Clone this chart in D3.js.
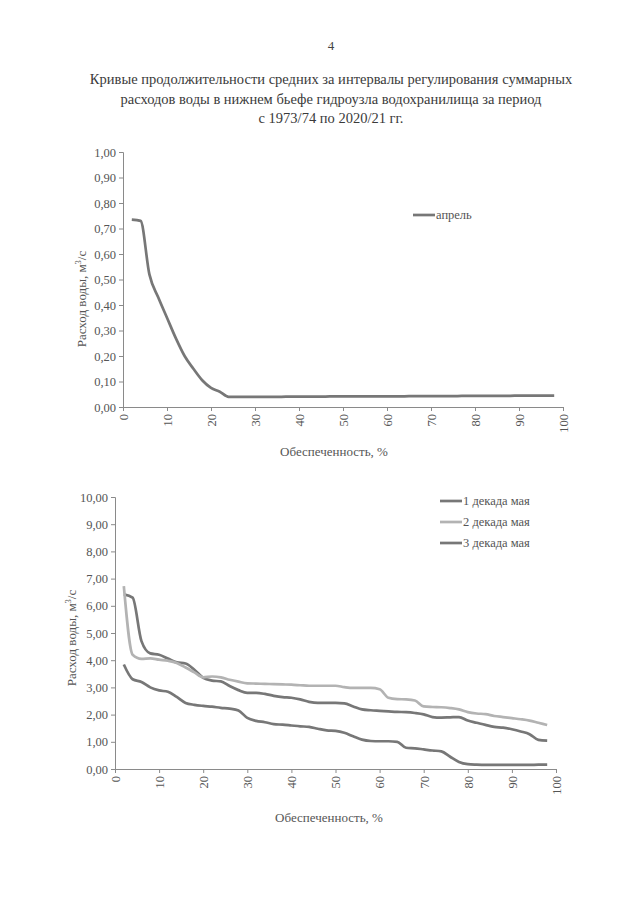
<!DOCTYPE html>
<html>
<head>
<meta charset="utf-8">
<script src="https://cdn.jsdelivr.net/npm/d3@7"></script>
<style>
  body { margin: 0; background: #fff; }
  svg text { font-family: "Liberation Serif", "Times New Roman", serif; }
</style>
</head>
<body>
<svg id="page" width="640" height="922"></svg>
<script>
// exceedance (%) points, shared by all curves
var pct = [2, 4, 6, 8, 10, 12, 14, 16, 18, 20, 22, 24, 26, 28, 30, 32, 34, 36, 38, 40,
  42, 44, 46, 48, 50, 52, 54, 56, 58, 60, 62, 64, 66, 68, 70, 72, 74, 76, 78, 80,
  82, 84, 86, 88, 90, 92, 94, 96, 98];

var april = [0.735, 0.73, 0.52, 0.43, 0.35, 0.27, 0.20, 0.15, 0.105, 0.075, 0.06, 0.04, 0.04, 0.04, 0.04, 0.04, 0.04, 0.04, 0.041, 0.041,
  0.041, 0.041, 0.041, 0.042, 0.042, 0.042, 0.042, 0.042, 0.042, 0.042, 0.042, 0.042, 0.043, 0.043, 0.043, 0.043, 0.043, 0.043, 0.044, 0.044,
  0.044, 0.044, 0.044, 0.044, 0.045, 0.045, 0.045, 0.045, 0.045];

var may1 = [6.42, 6.30, 4.70, 4.25, 4.20, 4.06, 3.92, 3.88, 3.65, 3.35, 3.25, 3.22, 3.05, 2.90, 2.80, 2.80, 2.76, 2.69, 2.64, 2.62,
  2.56, 2.47, 2.43, 2.43, 2.43, 2.41, 2.30, 2.19, 2.16, 2.14, 2.12, 2.10, 2.09, 2.06, 2.01, 1.91, 1.89, 1.90, 1.91, 1.78,
  1.70, 1.62, 1.55, 1.52, 1.46, 1.38, 1.28, 1.07, 1.04];
var may2 = [6.72, 4.20, 4.05, 4.07, 4.02, 3.98, 3.90, 3.73, 3.55, 3.37, 3.40, 3.37, 3.28, 3.21, 3.15, 3.14, 3.13, 3.12, 3.11, 3.10,
  3.08, 3.06, 3.06, 3.06, 3.06, 3.01, 2.98, 2.98, 2.98, 2.93, 2.62, 2.57, 2.56, 2.52, 2.30, 2.28, 2.27, 2.24, 2.19, 2.09,
  2.04, 2.02, 1.95, 1.91, 1.87, 1.83, 1.78, 1.70, 1.62];
var may3 = [3.84, 3.30, 3.20, 3.00, 2.89, 2.84, 2.65, 2.43, 2.36, 2.32, 2.29, 2.25, 2.22, 2.15, 1.88, 1.77, 1.72, 1.65, 1.63, 1.60,
  1.57, 1.55, 1.48, 1.42, 1.40, 1.33, 1.20, 1.08, 1.03, 1.02, 1.02, 1.00, 0.78, 0.76, 0.72, 0.68, 0.65, 0.45, 0.26, 0.18,
  0.16, 0.15, 0.15, 0.15, 0.15, 0.15, 0.15, 0.16, 0.16];

var xTicks = [0, 10, 20, 30, 40, 50, 60, 70, 80, 90, 100];
var titleLines = [
  "Кривые продолжительности средних за интервалы регулирования суммарных",
  "расходов воды в нижнем бьефе гидроузла водохранилища за период",
  "с 1973/74 по 2020/21 гг."
];

var svg = d3.select("#page");
var comma = function (v) { return d3.format(".2f")(v).replace(".", ","); };
var serif = "'Liberation Serif', 'Times New Roman', serif";

svg.append("text").attr("x", 331).attr("y", 50).attr("text-anchor", "middle")
  .attr("font-size", 13).attr("fill", "#444").style("font-family", serif).text("4");

svg.append("g").selectAll("text").data(titleLines).enter().append("text")
  .attr("x", 331).attr("y", function (d, i) { return 84 + i * 19.5; })
  .attr("text-anchor", "middle").attr("font-size", 14.5).attr("fill", "#3a3a3a")
  .style("font-family", serif)
  .text(function (d) { return d; });

function drawChart(opt) {
  var x = d3.scaleLinear().domain([0, 100]).range([opt.left, opt.right]);
  var y = d3.scaleLinear().domain([0, opt.ymax]).range([opt.bottom, opt.top]);
  var g = svg.append("g");

  var yAxis = g.append("g").attr("transform", "translate(" + opt.left + ",0)")
    .call(d3.axisLeft(y).ticks(10).tickSize(4).tickPadding(3).tickFormat(comma));
  var xAxis = g.append("g").attr("transform", "translate(0," + opt.bottom + ")")
    .call(d3.axisBottom(x).tickValues(xTicks).tickSize(4).tickPadding(3));

  [yAxis, xAxis].forEach(function (a) {
    a.attr("font-family", null);
    a.select(".domain").attr("stroke", "#8a8a8a");
    a.selectAll(".tick line").attr("stroke", "#8a8a8a");
    a.selectAll("text").attr("fill", "#555").attr("font-size", 12.5)
      .style("font-family", serif);
  });
  xAxis.selectAll(".tick text")
    .attr("transform", "rotate(-90)").attr("text-anchor", "end")
    .attr("dy", "0.35em").attr("x", -7).attr("y", 0);

  var yl = g.append("text").attr("transform", "translate(" + opt.ylabX + "," + opt.ylabY + ") rotate(-90)")
    .attr("text-anchor", "middle").attr("font-size", 13).attr("fill", "#555")
    .style("font-family", serif);
  yl.append("tspan").text("Расход воды, м");
  yl.append("tspan").attr("font-size", 8.5).attr("dy", -5).text("3");
  yl.append("tspan").attr("dy", 5).text("/с");

  g.append("text").attr("x", opt.xlabX).attr("y", opt.xlabY).attr("text-anchor", "middle")
    .attr("font-size", 13).attr("fill", "#555").style("font-family", serif)
    .text("Обеспеченность, %");

  var line = d3.line().curve(d3.curveMonotoneX)
    .x(function (d, i) { return x(pct[i]); })
    .y(function (d) { return y(d); });

  opt.series.forEach(function (s) {
    g.append("path").datum(s.values).attr("fill", "none")
      .attr("stroke", s.color).attr("stroke-width", 2.7)
      .attr("stroke-linejoin", "round").attr("d", line);
  });

  var leg = g.append("g").selectAll("g").data(opt.series).enter().append("g")
    .attr("transform", function (d, i) { return "translate(" + opt.legX + "," + (opt.legY + i * 21) + ")"; });
  leg.append("line").attr("x1", 0).attr("x2", 22).attr("stroke", function (d) { return d.color; })
    .attr("stroke-width", 2.7);
  leg.append("text").attr("x", 23).attr("dy", "0.35em").attr("font-size", 12.5).attr("fill", "#555")
    .style("font-family", serif)
    .text(function (d) { return d.name; });
}

drawChart({
  left: 123, right: 563, top: 152, bottom: 407, ymax: 1,
  ylabX: 86, ylabY: 299, xlabX: 334, xlabY: 456,
  legX: 413, legY: 215,
  series: [{ name: "апрель", values: april, color: "#777" }]
});

drawChart({
  left: 115, right: 556, top: 497, bottom: 769, ymax: 10,
  ylabX: 76, ylabY: 638, xlabX: 329, xlabY: 822,
  legX: 440, legY: 501,
  series: [
    { name: "1 декада мая", values: may1, color: "#777" },
    { name: "2 декада мая", values: may2, color: "#b3b3b3" },
    { name: "3 декада мая", values: may3, color: "#777" }
  ]
});
</script>
</body>
</html>
